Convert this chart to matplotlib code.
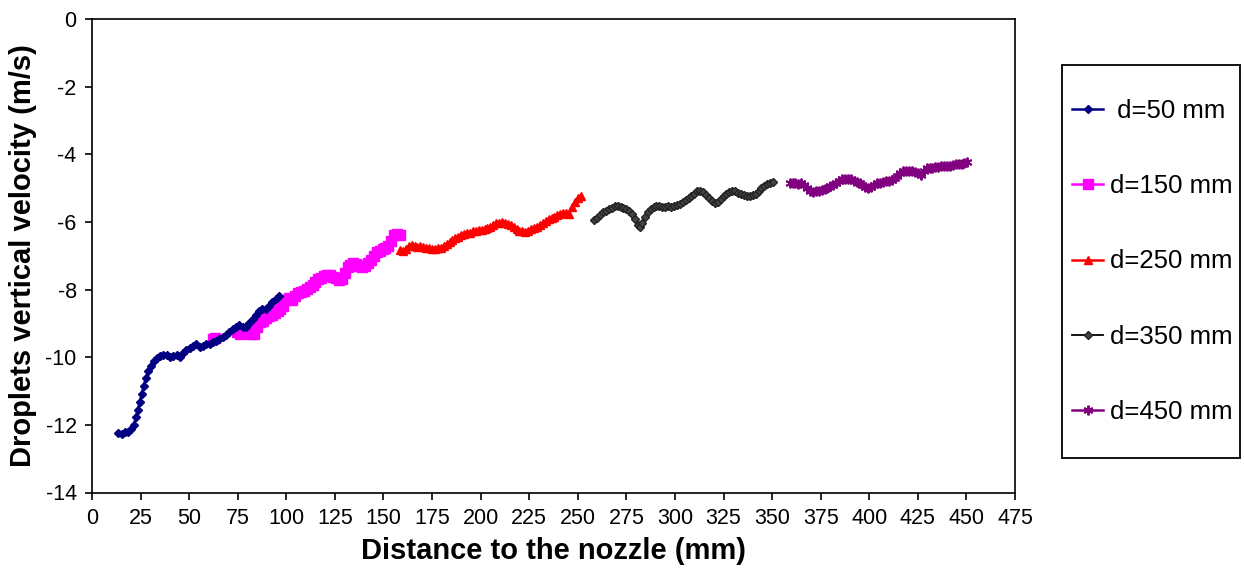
import numpy as np
import matplotlib
matplotlib.use("Agg")
import matplotlib.pyplot as plt
from matplotlib.patches import Rectangle

plt.rcParams["font.family"] = ["Liberation Sans", "DejaVu Sans"]
plt.rcParams["axes.unicode_minus"] = False

# d = 50 mm
x50 = [13.5, 15.2, 16.9, 18.6, 20.3, 21.5, 22.6, 23.6, 24.6, 25.6, 26.6, 27.7, 28.9,
       30.3, 31.8, 33.3, 35.0, 36.7, 38.4, 40.1, 41.8, 43.5, 45.2, 46.9, 48.6, 50.3,
       52.0, 53.7, 55.4, 57.1, 58.8, 60.5, 62.2, 63.9, 65.6, 67.3, 69.0, 70.7, 72.4,
       74.1, 75.8, 77.5, 79.2, 80.9, 82.6, 84.3, 86.0, 87.7, 89.4, 91.1, 92.8, 94.5, 96.2]
v50 = [-12.25, -12.27, -12.22, -12.22, -12.12, -12.00, -11.78, -11.55, -11.32, -11.08,
       -10.85, -10.62, -10.42, -10.25, -10.10, -10.02, -9.95, -9.92, -9.93, -9.98, -9.96,
       -9.93, -9.98, -9.88, -9.80, -9.74, -9.66, -9.62, -9.70, -9.66, -9.60, -9.62, -9.56,
       -9.52, -9.47, -9.40, -9.35, -9.26, -9.16, -9.10, -9.06, -9.10, -9.12, -9.00, -8.88,
       -8.74, -8.64, -8.58, -8.56, -8.48, -8.38, -8.28, -8.18]

# d = 150 mm
x150 = [62.2, 63.2, 74.5, 76.0, 77.5, 79.0, 80.5, 82.0, 83.5, 85.0, 86.5, 88.0, 89.5,
        91.0, 92.5, 94.0, 95.5, 97.0, 98.5, 100.0, 101.5, 103.0, 104.5, 106.0, 107.5,
        109.0, 110.5, 112.0, 113.5, 115.0, 116.5, 118.0, 119.5, 121.0, 122.5, 124.0,
        125.5, 127.0, 128.5, 130.0, 131.5, 133.0, 134.5, 136.0, 137.5, 139.0, 140.5,
        142.0, 143.5, 145.0, 146.5, 148.0, 149.5, 151.0, 152.5, 154.0, 155.5, 157.0, 158.5]
v150 = [-9.45, -9.42, -9.25, -9.30, -9.28, -9.22, -9.28, -9.32, -9.30, -9.10, -8.96,
        -8.92, -8.85, -8.78, -8.74, -8.70, -8.62, -8.56, -8.50, -8.32, -8.25, -8.30,
        -8.18, -8.10, -8.07, -8.04, -7.98, -7.92, -7.86, -7.78, -7.70, -7.66, -7.60,
        -7.56, -7.58, -7.62, -7.66, -7.72, -7.68, -7.50, -7.32, -7.26, -7.20, -7.24,
        -7.30, -7.34, -7.30, -7.20, -7.12, -7.00, -6.90, -6.86, -6.80, -6.76, -6.72,
        -6.55, -6.40, -6.36, -6.38]

# d = 250 mm
x250 = [158.5, 160.0, 161.5, 163.0, 164.5, 166.0, 167.5, 169.0, 170.5, 172.0, 173.5,
        175.0, 176.5, 178.0, 179.5, 181.0, 182.5, 184.0, 185.5, 187.0, 188.5, 190.0,
        191.5, 193.0, 194.5, 196.0, 197.5, 199.0, 200.5, 202.0, 203.5, 205.0, 206.5,
        208.0, 209.5, 211.0, 212.5, 214.0, 215.5, 217.0, 218.5, 220.0, 221.5, 223.0,
        224.5, 226.0, 227.5, 229.0, 230.5, 232.0, 233.5, 235.0, 236.5, 238.0, 239.5,
        241.0, 242.5, 244.0, 245.5, 247.0, 248.5, 250.0, 251.5]
v250 = [-6.82, -6.86, -6.80, -6.72, -6.68, -6.70, -6.74, -6.72, -6.74, -6.76, -6.78,
        -6.80, -6.80, -6.78, -6.76, -6.72, -6.66, -6.60, -6.54, -6.48, -6.44, -6.40,
        -6.36, -6.34, -6.32, -6.28, -6.26, -6.24, -6.24, -6.22, -6.18, -6.14, -6.08,
        -6.04, -6.02, -6.00, -6.04, -6.06, -6.10, -6.16, -6.22, -6.26, -6.28, -6.30,
        -6.26, -6.22, -6.18, -6.14, -6.10, -6.04, -5.98, -5.92, -5.88, -5.84, -5.80,
        -5.76, -5.74, -5.74, -5.76, -5.56, -5.40, -5.30, -5.22]

# d = 350 mm
x350 = [258.5, 260.0, 261.5, 263.0, 264.5, 266.0, 267.5, 269.0, 270.5, 272.0, 273.5,
        275.0, 276.5, 278.0, 279.5, 281.0, 282.0, 283.0, 284.5, 286.0, 287.5, 289.0,
        290.5, 292.0, 293.5, 295.0, 296.5, 298.0, 299.5, 301.0, 302.5, 304.0, 305.5,
        307.0, 308.5, 310.0, 311.5, 313.0, 314.5, 316.0, 317.5, 319.0, 320.5, 322.0,
        323.5, 325.0, 326.5, 328.0, 329.5, 331.0, 332.5, 334.0, 335.5, 337.0, 338.5,
        340.0, 341.5, 343.0, 344.5, 346.0, 347.5, 349.0, 350.5]
v350 = [-5.95, -5.88, -5.80, -5.72, -5.68, -5.62, -5.58, -5.54, -5.52, -5.56, -5.60,
        -5.62, -5.68, -5.78, -5.92, -6.08, -6.14, -6.04, -5.86, -5.72, -5.62, -5.56,
        -5.52, -5.52, -5.56, -5.56, -5.54, -5.55, -5.52, -5.50, -5.46, -5.40, -5.34,
        -5.28, -5.22, -5.16, -5.10, -5.08, -5.12, -5.20, -5.30, -5.38, -5.44, -5.40,
        -5.32, -5.24, -5.18, -5.12, -5.08, -5.10, -5.14, -5.16, -5.20, -5.24, -5.24,
        -5.20, -5.16, -5.08, -5.00, -4.94, -4.88, -4.84, -4.82]

# d = 450 mm
x450 = [359.0, 360.5, 362.0, 363.5, 365.0, 366.5, 368.0, 369.5, 371.0, 372.5, 374.0,
        375.5, 377.0, 378.5, 380.0, 381.5, 383.0, 384.5, 386.0, 387.5, 389.0, 390.5,
        392.0, 393.5, 395.0, 396.5, 398.0, 399.5, 401.0, 402.5, 404.0, 405.5, 407.0,
        408.5, 410.0, 411.5, 413.0, 414.5, 416.0, 417.5, 419.0, 420.5, 422.0, 423.5,
        425.0, 426.5, 428.0, 429.5, 431.0, 432.5, 434.0, 435.5, 437.0, 438.5, 440.0,
        441.5, 443.0, 444.5, 446.0, 447.5, 449.0, 450.5]
v450 = [-4.86, -4.84, -4.86, -4.88, -4.86, -4.92, -5.00, -5.08, -5.12, -5.10, -5.08,
        -5.06, -5.04, -5.00, -4.94, -4.90, -4.84, -4.78, -4.74, -4.72, -4.72, -4.74,
        -4.78, -4.82, -4.86, -4.90, -4.96, -5.00, -4.96, -4.90, -4.86, -4.84, -4.82,
        -4.80, -4.80, -4.76, -4.70, -4.64, -4.56, -4.50, -4.48, -4.50, -4.48, -4.52,
        -4.56, -4.60, -4.50, -4.42, -4.40, -4.40, -4.38, -4.38, -4.36, -4.36, -4.34,
        -4.34, -4.32, -4.30, -4.30, -4.28, -4.26, -4.22]

W, H = 1244, 579
fig = plt.figure(figsize=(W / 100, H / 100), dpi=100)
ax = fig.add_axes([92 / W, 1 - 492.5 / H, (1015 - 92) / W, (492.5 - 19) / H])

ax.plot(x150, v150, color="#FF00FF", marker="s", ms=6.5, lw=1.8, label="d=150 mm", zorder=2)
ax.plot(x50, v50, color="#000080", marker="D", ms=4.3, lw=1.8, label=" d=50 mm", zorder=3)
ax.plot(x250, v250, color="#FF0000", marker="^", ms=6, lw=1.8, label="d=250 mm", zorder=2)
ax.plot(x350, v350, color="#000000", marker="D", ms=4, lw=1.3, mfc="#444444",
        mec="#222222", label="d=350 mm", zorder=2)
ax.plot(x450, v450, color="#800080", marker=(6, 2, 0), ms=7, mew=1.4, lw=1.8,
        label="d=450 mm", zorder=2)

ax.set_xlim(0, 475)
ax.set_ylim(-14, 0)
ax.set_xticks(np.arange(0, 476, 25))
ax.set_yticks(np.arange(-14, 1, 2))
for s in ax.spines.values():
    s.set_linewidth(1.2)
ax.tick_params(direction="out", length=5, width=1.2, labelsize=15.5, pad=6)
ax.set_xlabel("Distance to the nozzle (mm)", fontsize=21, fontweight="bold", labelpad=6)
ax.set_ylabel("Droplets vertical velocity (m/s)", fontsize=21, fontweight="bold", labelpad=6)

# legend box drawn separately so its padding can differ from the entries
fig.patches.append(Rectangle((1062 / W, 1 - 458 / H), (1240 - 1062) / W, (458 - 65) / H,
                             transform=fig.transFigure, fill=False, ec="black", lw=1.3))

h, l = ax.get_legend_handles_labels()
order = [1, 0, 2, 3, 4]
leg = fig.legend([h[i] for i in order], [l[i] for i in order],
                 loc="center", bbox_to_anchor=(1152.5 / W, 1 - 261.5 / H),
                 bbox_transform=fig.transFigure,
                 fontsize=18.5, frameon=False, borderaxespad=0, borderpad=0,
                 labelspacing=2.0, handlelength=1.2, handletextpad=0.28)

fig.savefig("out.png", dpi=100)
